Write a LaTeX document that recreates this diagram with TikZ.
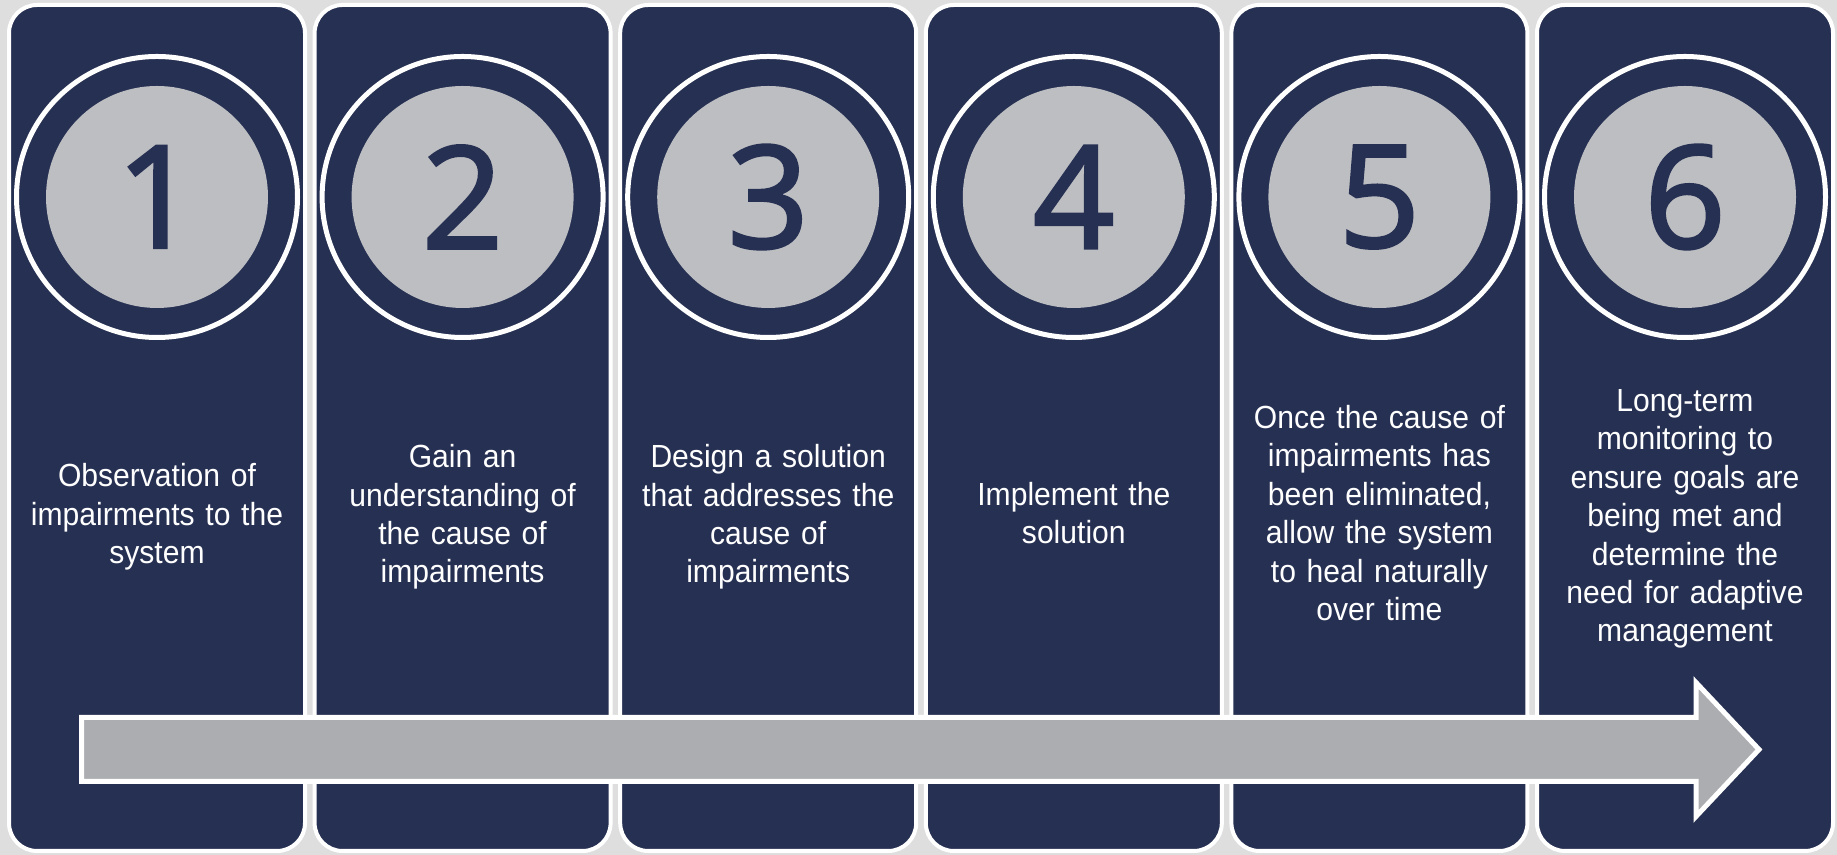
\documentclass[tikz,border=0pt]{standalone}
\usepackage{fontspec}
\setmainfont{Liberation Sans}
\newfontfamily\stepfont[FakeStretch=0.94]{Liberation Sans}
\newfontfamily\numfont[FakeBold=2.2]{Open Sans}
\usepackage{xcolor}
\usepackage{tikz}
\definecolor{stepnavy}{RGB}{38, 48, 82}
\definecolor{discgray}{RGB}{189, 190, 194}
\definecolor{arrowgray}{RGB}{172, 173, 177}
\definecolor{backgray}{RGB}{222, 222, 222}

\begin{document}
\begin{tikzpicture}[x=0.5pt, y=0.5pt,
  panel/.style={rectangle, draw=white, line width=2pt, fill=stepnavy, rounded corners=14pt, minimum width=148pt, minimum height=423pt},
  ring/.style={circle, draw=white, line width=2.5pt, minimum size=140.5pt},
  disc/.style={circle, fill=discgray, minimum size=111pt, inner sep=0pt, text=stepnavy, font=\numfont\fontsize{71}{71}\selectfont},
  steptext/.style={text=white, align=center, text width=140pt, font=\stepfont\fontsize{16}{19.2}\selectfont}]
% Page background
\fill[backgray] (0,0) rectangle (1837,855);

% Step panels
\node[panel] (p1) at (157,427) {};
\node[panel] (p2) at (462.6,427) {};
\node[panel] (p3) at (768.2,427) {};
\node[panel] (p4) at (1073.8,427) {};
\node[panel] (p5) at (1379.4,427) {};
\node[panel] (p6) at (1685,427) {};

% Numbered discs with white rings
\node[ring] (r1) at (157,658) {};
\node[ring] (r2) at (462.6,658) {};
\node[ring] (r3) at (768.2,658) {};
\node[ring] (r4) at (1073.8,658) {};
\node[ring] (r5) at (1379.4,658) {};
\node[ring] (r6) at (1685,658) {};
\node[disc] (n1) at (r1) {1};
\node[disc] (n2) at (r2) {2};
\node[disc] (n3) at (r3) {3};
\node[disc] (n4) at (r4) {4};
\node[disc] (n5) at (r5) {5};
\node[disc] (n6) at (r6) {6};

% Progress arrow across all panels
\draw[draw=white, line width=2.5pt, fill=arrowgray]
  (81.5,137.5) -- (1696,137.5) -- (1696,172.5) -- (1759,105.5)
  -- (1696,38.5) -- (1696,73.5) -- (81.5,73.5) -- cycle;

% Step descriptions
\node[steptext] (t1) at (157,338) {Observation of\\ impairments to the\\ system};
\node[steptext] (t2) at (462.6,338) {Gain an\\ understanding of\\ the cause of\\ impairments};
\node[steptext] (t3) at (768.2,338) {Design a solution\\ that addresses the\\ cause of\\ impairments};
\node[steptext] (t4) at (1073.8,342) {Implement the\\ solution};
\node[steptext] (t5) at (1379.4,342) {Once the cause of\\ impairments has\\ been eliminated,\\ allow the system\\ to heal naturally\\ over time};
\node[steptext] (t6) at (1685,336) {Long-term\\ monitoring to\\ ensure goals are\\ being met and\\ determine the\\ need for adaptive\\ management};
\end{tikzpicture}
\end{document}
